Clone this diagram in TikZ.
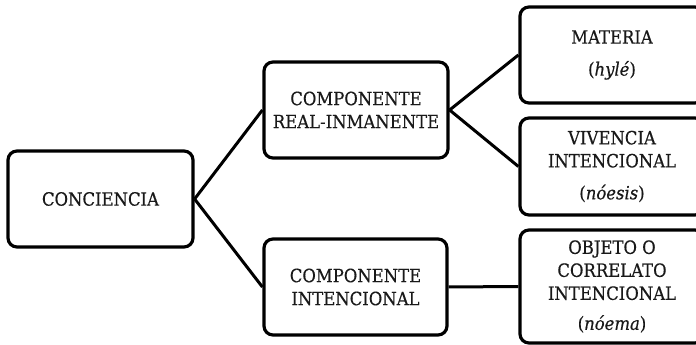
\documentclass[tikz,border=0pt]{standalone}
\usepackage{fontspec}
\setmainfont{DejaVu Serif Condensed}[FakeBold=0.4]
\begin{document}
\begin{tikzpicture}[x=1pt,y=1pt,
  box/.style={draw=black, line width=3.2pt, rounded corners=9pt, fill=white,
    align=center, inner sep=0pt, font=\fontsize{18.3}{23}\selectfont, text=black!90},
  conn/.style={line width=3pt, black}]
\useasboundingbox (0,0) rectangle (696,345);
\clip (0,0) rectangle (696,345);
\fill[white] (0,0) rectangle (696,345);
\node[box, minimum width=185pt, minimum height=96pt] (conc) at (100.5,146) {CONCIENCIA};
\node[box, minimum width=184pt, minimum height=96pt] (real) at (356,235) {COMPONENTE\\REAL-INMANENTE};
\node[box, minimum width=183pt, minimum height=96pt] (inten) at (355.5,58) {COMPONENTE\\INTENCIONAL};
\node[box, minimum width=184pt, minimum height=96pt] (mat) at (612,290) {MATERIA\\[9pt](\textit{hylé})};
\node[box, minimum width=184pt, minimum height=97pt] (viv) at (612,178.5) {VIVENCIA\\INTENCIONAL\\[9pt](\textit{nóesis})};
\node[box, minimum width=184pt, minimum height=113pt] (obj) at (612,58.5) {OBJETO O\\CORRELATO\\INTENCIONAL\\[7pt](\textit{nóema})};
\draw[conn] (conc.east) -- (real.west);
\draw[conn] (conc.east) -- (inten.west);
\draw[conn] (real.east) -- (mat.west);
\draw[conn] (real.east) -- (viv.west);
\draw[conn] (inten.east) -- (obj.west);
\end{tikzpicture}
\end{document}
